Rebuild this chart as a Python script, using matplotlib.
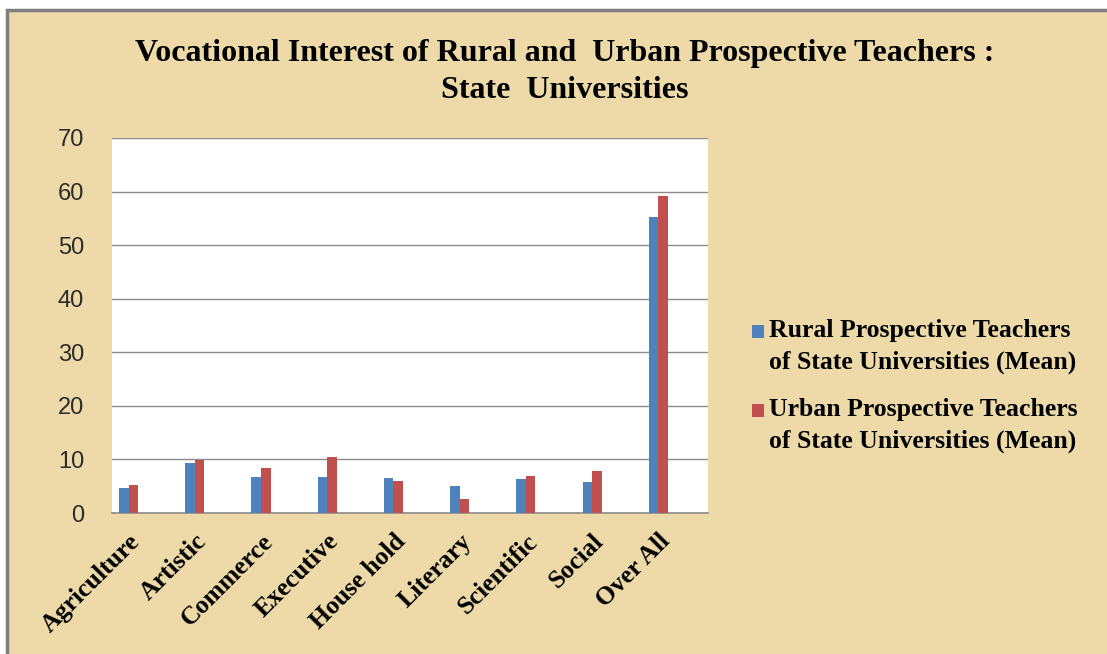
import numpy as np
import matplotlib.pyplot as plt
from matplotlib.patches import Rectangle

# Mean vocational interest scores, state universities
categories = ['Agriculture', 'Artistic', 'Commerce', 'Executive', 'House hold',
              'Literary', 'Scientific', 'Social', 'Over All']
rural = [4.6, 9.4, 6.8, 6.8, 6.6, 5.1, 6.3, 5.8, 55.3]
urban = [5.3, 9.9, 8.4, 10.4, 6.0, 2.6, 7.0, 7.9, 59.2]
series_names = ['Rural Prospective Teachers\nof State Universities (Mean)',
                'Urban Prospective Teachers\nof State Universities (Mean)']
yticks = [0, 10, 20, 30, 40, 50, 60, 70]

blue = '#4F81BD'
red = '#C0504D'
paper = '#EDDAA8'
serif = ['Liberation Serif', 'DejaVu Serif']

W, H = 1107, 654
fig = plt.figure(figsize=(W / 100, H / 100), dpi=100)
fig.patch.set_facecolor('white')

# parchment panel with grey frame
fig.patches.append(Rectangle((7 / W, -0.1), 1.1, 1.1 - 10 / H, transform=fig.transFigure,
                             facecolor=paper, edgecolor='#7f7f7f', linewidth=2.5, zorder=-5))

ax = fig.add_axes([112 / W, 141 / H, 596 / W, 375 / H])
ax.set_zorder(2)
ax.set_facecolor('white')

x = np.arange(len(categories))
w = 0.145
ax.bar(x - w / 2, rural, w, color=blue, zorder=3)
ax.bar(x + w / 2, urban, w, color=red, zorder=3)

ax.set_xlim(-0.25, 8.75)
ax.set_ylim(0, 70)
ax.set_yticks(yticks)
ax.yaxis.grid(True, color='#8c8c8c', linewidth=1.0, zorder=1)
ax.tick_params(axis='y', length=0, pad=20, labelsize=17, labelcolor='#2b2b2b')
for lab in ax.get_yticklabels():
    lab.set_family(['Liberation Sans', 'DejaVu Sans'])
ax.set_xticks(x)
ax.set_xticklabels(categories, rotation=45, ha='right', va='top', rotation_mode='anchor',
                   fontsize=18.5, fontweight='bold', family=serif)
ax.tick_params(axis='x', length=0, pad=12)
for side in ['left', 'right', 'top']:
    ax.spines[side].set_visible(False)
ax.spines['bottom'].set_color('#8c8c8c')
ax.spines['bottom'].set_linewidth(1.2)

fig.text(565 / W, 1 - 54 / H, 'Vocational Interest of Rural and  Urban Prospective Teachers :',
         ha='center', va='center', fontsize=23, fontweight='bold', family=serif)
fig.text(565 / W, 1 - 90 / H, 'State  Universities',
         ha='center', va='center', fontsize=23, fontweight='bold', family=serif)

# legend: square swatch next to the first line of each two-line entry
for color, name, top in zip([blue, red], series_names, [331, 410]):
    fig.patches.append(Rectangle((752 / W, 1 - (top + 7) / H), 12 / W, 13 / H,
                                 transform=fig.transFigure, facecolor=color, zorder=3))
    fig.text(769 / W, 1 - (top - 12) / H, name, ha='left', va='top', linespacing=1.45,
             fontsize=18.5, fontweight='bold', family=serif)

fig.savefig('out.png', dpi=100)
